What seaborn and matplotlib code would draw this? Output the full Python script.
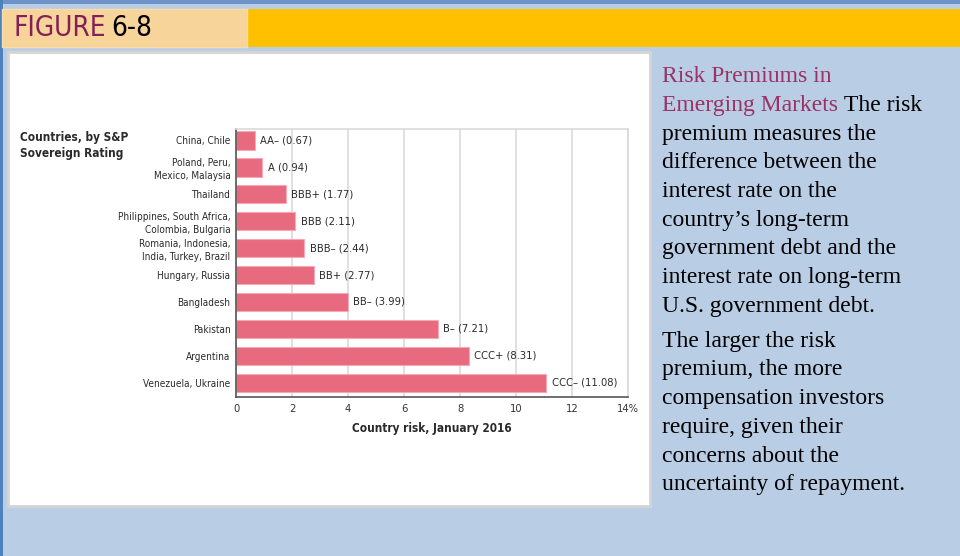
import matplotlib
matplotlib.use("Agg")
import matplotlib.pyplot as plt
import seaborn as sns
import pandas as pd
from matplotlib.patches import Rectangle

# data
countries = [
    "China, Chile",
    "Poland, Peru,\nMexico, Malaysia",
    "Thailand",
    "Philippines, South Africa,\nColombia, Bulgaria",
    "Romania, Indonesia,\nIndia, Turkey, Brazil",
    "Hungary, Russia",
    "Bangladesh",
    "Pakistan",
    "Argentina",
    "Venezuela, Ukraine",
]
ratings = ["AA\u2013", "A", "BBB+", "BBB", "BBB\u2013", "BB+", "BB\u2013", "B\u2013", "CCC+", "CCC\u2013"]
risk = [0.67, 0.94, 1.77, 2.11, 2.44, 2.77, 3.99, 7.21, 8.31, 11.08]
x_ticks = [0, 2, 4, 6, 8, 10, 12, 14]
x_tick_labels = ["0", "2", "4", "6", "8", "10", "12", "14%"]

caption_title = ["Risk Premiums in", "Emerging Markets"]
caption_lines = [
    "premium measures the",
    "difference between the",
    "interest rate on the",
    "country\u2019s long-term",
    "government debt and the",
    "interest rate on long-term",
    "U.S. government debt.",
]
caption_lines2 = [
    "The larger the risk",
    "premium, the more",
    "compensation investors",
    "require, given their",
    "concerns about the",
    "uncertainty of repayment.",
]

df = pd.DataFrame({"country": countries, "risk": risk, "rating": ratings})

sns.set_theme(style="white")
plt.rcParams["font.family"] = ["DejaVu Sans"]
plt.rcParams["font.stretch"] = "condensed"

W, H = 960, 556
fig = plt.figure(figsize=(9.6, 5.56), dpi=100, facecolor="#B9CDE5")


def px_rect(x0, y0, x1, y1, **kw):
    # rectangle given in pixel coords from the top-left
    return Rectangle((x0 / W, 1 - y1 / H), (x1 - x0) / W, (y1 - y0) / H,
                     transform=fig.transFigure, figure=fig, zorder=-5, **kw)


# slide decorations
fig.patches.append(px_rect(0, 0, W, 4, facecolor="#6D93C8", edgecolor="none"))
fig.patches.append(px_rect(0, 0, 3, H, facecolor="#4F81BD", edgecolor="none"))
fig.patches.append(px_rect(2, 9, W, 47, facecolor="#FFC000", edgecolor="none"))
fig.patches.append(px_rect(2, 9, 247, 47, facecolor="#F6D49A", edgecolor="#F8DDA8", linewidth=1))
fig.patches.append(px_rect(8, 52, 650, 506, facecolor="white", edgecolor="#D4D4D4", linewidth=2))

t_word = fig.text(14 / W, 1 - 28 / H, "FIGURE", color="#861F55", fontsize=20,
                  va="center", ha="left")

# chart
ax = fig.add_axes([236 / W, 1 - 397 / H, (628 - 236) / W, (397 - 129) / H])
ax.set_zorder(2)
ax.set_facecolor("white")
sns.barplot(data=df, x="risk", y="country", orient="h", color="#E86A7E",
            edgecolor="#F5A9B5", linewidth=0.8, width=0.7, saturation=1, ax=ax)

ax.set_xlim(0, 14)
ax.set_ylim(9.52, -0.41)
ax.set_xticks(x_ticks)
ax.set_xticklabels(x_tick_labels, fontsize=8, color="#333333")
ax.tick_params(axis="x", length=0, pad=5)
ax.tick_params(axis="y", length=0, pad=4, labelsize=7.2, labelcolor="#2A2A2A")
for lab in ax.get_yticklabels():
    lab.set_linespacing(1.4)
ax.xaxis.grid(True, color="#DADADA", linewidth=1.2)
ax.set_axisbelow(True)
for side in ["top", "right"]:
    ax.spines[side].set_color("#DADADA")
    ax.spines[side].set_linewidth(1.2)
for side in ["left", "bottom"]:
    ax.spines[side].set_color("#555555")
    ax.spines[side].set_linewidth(1.2)
ax.set_ylabel("")
ax.set_xlabel("Country risk, January 2016", fontsize=8.5, fontweight="bold",
              color="#2A2A2A", labelpad=6)

for i, (v, r) in enumerate(zip(risk, ratings)):
    ax.annotate(f"{r} ({v:.2f})", (v, i), xytext=(4, 0), textcoords="offset points",
                va="center", ha="left", fontsize=8, color="#2A2A2A")

fig.text(20 / W, 1 - 131 / H, "Countries, by S&P\nSovereign Rating", fontsize=8.5,
         fontweight="bold", color="#2A2A2A", va="top", ha="left", linespacing=1.3)

# caption on the right
serif = ["Liberation Serif", "DejaVu Serif"]
cx = 662 / W
cap_size = 17
purple = "#993366"
base1 = 82.3
step = 28.7

fig.text(cx, 1 - base1 / H, caption_title[0], color=purple, fontsize=cap_size,
         family=serif, va="baseline", ha="left", fontstretch="normal")
t2 = fig.text(cx, 1 - (base1 + step) / H, caption_title[1], color=purple,
              fontsize=cap_size, family=serif, va="baseline", ha="left", fontstretch="normal")
renderer = fig.canvas.get_renderer()
bb = t2.get_window_extent(renderer)
fig.text(bb.x1 / W, 1 - (base1 + step) / H, "\u00a0The risk", color="black",
         fontsize=cap_size, family=serif, va="baseline", ha="left", fontstretch="normal")
for k, line in enumerate(caption_lines):
    fig.text(cx, 1 - (base1 + step * (k + 2)) / H, line, color="black",
             fontsize=cap_size, family=serif, va="baseline", ha="left", fontstretch="normal")
base2 = 346.7
for k, line in enumerate(caption_lines2):
    fig.text(cx, 1 - (base2 + step * k) / H, line, color="black",
             fontsize=cap_size, family=serif, va="baseline", ha="left", fontstretch="normal")

# "6-8" in black right after the maroon word
wb = t_word.get_window_extent(renderer)
fig.text(wb.x1 / W + 5 / W, 1 - 28 / H, "6-8", color="black", fontsize=20,
         va="center", ha="left")

fig.savefig("out.png", dpi=100, facecolor=fig.get_facecolor())
